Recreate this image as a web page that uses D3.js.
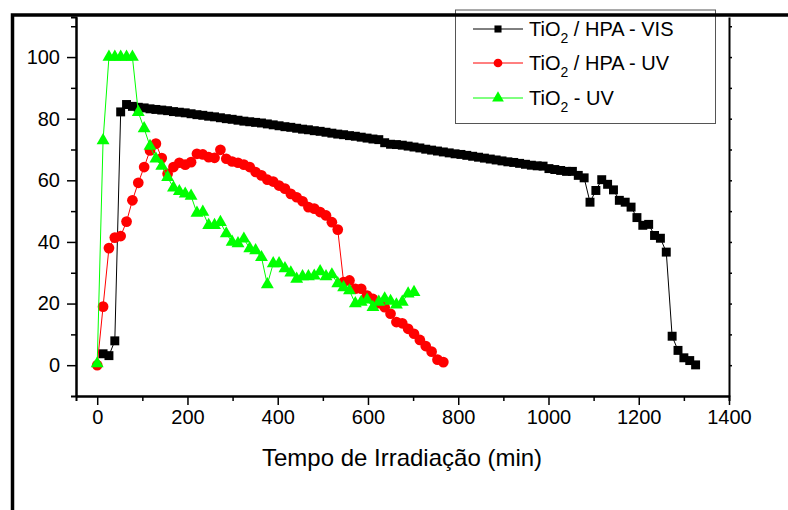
<!DOCTYPE html>
<html lang="pt">
<head>
<meta charset="UTF-8">
<script src="https://cdn.jsdelivr.net/npm/d3@7"></script>
<title>Irradiação</title>
<style>
    body { margin: 0; background: #fff; }
    text { font-family: 'Liberation Sans', Arial, sans-serif; fill: #000; }
</style>
</head>
<body>
<div id="chart"></div>
<script>
// tempo (min) e valores
const visTime = [13, 26, 39, 52, 65, 78, 91, 104, 117, 130, 143, 156, 169, 182, 195, 208, 221, 234, 247, 260,
    273, 286, 299, 312, 325, 338, 351, 364, 377, 390, 403, 416, 429, 442, 455, 468, 481, 494, 507, 520,
    533, 546, 559, 572, 585, 598, 611, 624, 637, 650, 663, 676, 689, 702, 715, 728, 741, 754, 767, 780,
    793, 806, 819, 832, 845, 858, 871, 884, 897, 910, 923, 936, 949, 962, 975, 988, 1001, 1014, 1027, 1040,
    1053, 1066, 1079, 1092, 1105, 1118, 1131, 1144, 1157, 1170, 1183, 1196, 1209, 1222, 1235, 1248, 1261, 1274, 1287, 1300,
    1313, 1326];
const visValue = [3.7, 3.1, 7.9, 82.2, 84.6, 84.0, 83.7, 83.5, 83.2, 83.0, 82.8, 82.6, 82.3, 82.1, 81.9, 81.6, 81.3, 81.1, 80.8, 80.6,
    80.3, 80.0, 79.8, 79.5, 79.2, 79.0, 78.8, 78.6, 78.3, 78.0, 77.7, 77.4, 77.2, 76.9, 76.6, 76.4, 76.1, 75.9, 75.6, 75.3,
    75.0, 74.8, 74.5, 74.3, 74.0, 73.7, 73.4, 73.2, 72.2, 71.7, 71.6, 71.4, 71.1, 70.8, 70.5, 70.1, 69.8, 69.5, 69.2, 68.9,
    68.6, 68.4, 68.1, 67.8, 67.5, 67.2, 66.9, 66.6, 66.3, 66.0, 65.8, 65.5, 65.2, 64.9, 64.7, 64.6, 63.8, 63.5, 63.2, 62.9,
    62.9, 61.6, 60.8, 52.9, 56.7, 60.2, 58.7, 56.9, 53.5, 52.9, 51.3, 47.9, 45.4, 45.7, 42.1, 41.2, 36.7, 9.4, 4.8, 2.4,
    1.5, 0.1];

const uvTime = [0, 13, 26, 39, 52, 65, 78, 91, 104, 117, 130, 143, 156, 169, 182, 195, 208, 221, 234, 247,
    260, 273, 286, 299, 312, 325, 338, 351, 364, 377, 390, 403, 416, 429, 442, 455, 468, 481, 494, 507,
    520, 533, 546, 559, 572, 585, 598, 611, 624, 637, 650, 663, 676, 689, 702, 715, 728, 741, 754, 767];
const uvValue = [0, 19.0, 38.0, 41.4, 41.9, 46.6, 53.5, 59.2, 64.3, 69.7, 71.9, 67.2, 62.1, 64.3, 65.7, 65.1, 65.9, 68.6, 68.4, 67.5,
    67.3, 69.9, 67.0, 66.1, 65.7, 65.1, 64.3, 62.7, 61.6, 60.2, 59.6, 58.3, 57.3, 55.6, 54.5, 53.2, 51.3, 50.8, 49.7, 48.6,
    46.4, 44.0, 27.0, 27.5, 24.8, 24.8, 22.6, 21.5, 20.1, 18.8, 16.7, 14.0, 13.6, 11.8, 10.2, 8.2, 6.2, 4.4, 1.8, 1.0];

const tioTime = [0, 13, 26, 39, 52, 65, 78, 91, 104, 117, 130, 143, 156, 169, 182, 195, 208, 221, 234, 247,
    260, 273, 286, 299, 312, 325, 338, 351, 364, 377, 390, 403, 416, 429, 442, 455, 468, 481, 494, 507,
    520, 533, 546, 559, 572, 585, 598, 611, 624, 637, 650, 663, 676, 689, 702];
const tioValue = [0.5, 72.9, 100, 100, 100, 100, 100, 82.1, 76.8, 71.1, 67.0, 64.6, 61.0, 57.6, 56.4, 55.6, 54.9, 49.4, 49.7, 45.4,
    45.4, 46.4, 42.7, 40.0, 39.5, 41.0, 37.9, 37.2, 35.0, 26.2, 33.0, 33.0, 31.4, 30.0, 28.0, 28.8, 28.8, 29.0, 30.4, 28.8,
    29.4, 26.5, 25.2, 24.2, 20.0, 20.5, 21.2, 18.8, 20.5, 21.6, 20.8, 19.6, 20.5, 23.2, 23.7];

const xTicks = [0, 200, 400, 600, 800, 1000, 1200, 1400];
const xMinor = [100, 300, 500, 700, 900, 1100, 1300];
const yTicks = [0, 20, 40, 60, 80, 100];
const yMinor = [10, 30, 50, 70, 90, 110];

const series = [
    { label: "/ HPA - VIS", time: visTime, value: visValue, color: "#000000", shape: "square" },
    { label: "/ HPA - UV", time: uvTime, value: uvValue, color: "#ff0000", shape: "circle" },
    { label: "- UV", time: tioTime, value: tioValue, color: "#00ff00", shape: "triangle" }
];

const width = 788, height = 510;
const svg = d3.select("#chart").append("svg")
    .attr("width", width)
    .attr("height", height);

const x = d3.scaleLinear().domain([-47, 1400]).range([76, 729]);
const y = d3.scaleLinear().domain([-10, 113]).range([396, 17]);

function symbolFor(shape) {
    if (shape === "square") return d3.symbol().type(d3.symbolSquare).size(80);
    if (shape === "circle") return d3.symbol().type(d3.symbolCircle).size(90);
    return d3.symbol().type(d3.symbolTriangle).size(72);
}

// series
series.forEach(s => {
    const pts = s.time.map((t, i) => [t, s.value[i]]);
    const line = d3.line().x(d => x(d[0])).y(d => y(d[1]));
    svg.append("path")
        .attr("d", line(pts))
        .attr("fill", "none")
        .attr("stroke", s.color)
        .attr("stroke-width", 1);
    svg.append("g").selectAll("path")
        .data(pts)
        .enter()
        .append("path")
        .attr("transform", d => `translate(${x(d[0])},${y(d[1])})`)
        .attr("d", symbolFor(s.shape))
        .attr("fill", s.color);
});

// axes
const fmt = d3.format("d");
const xAxis = svg.append("g").attr("transform", "translate(0,396)");
xAxis.call(d3.axisBottom(x).tickValues(xTicks).tickFormat(fmt).tickSize(9).tickPadding(5).tickSizeOuter(0));
xAxis.append("g").call(d3.axisBottom(x).tickValues(xMinor).tickSize(5).tickFormat(""));

const yAxis = svg.append("g").attr("transform", "translate(76,0)");
yAxis.call(d3.axisLeft(y).tickValues(yTicks).tickFormat(fmt).tickSize(9).tickPadding(7).tickSizeOuter(0));
yAxis.append("g").call(d3.axisLeft(y).tickValues(yMinor).tickSize(5).tickFormat(""));

const yRight = svg.append("g").attr("transform", "translate(729,0)");
yRight.call(d3.axisRight(y).tickValues(yTicks.concat(yMinor)).tickSize(3).tickFormat("").tickSizeOuter(0));

svg.selectAll(".domain").attr("stroke", "#000").attr("stroke-width", 2);
svg.selectAll(".tick line").attr("stroke", "#000").attr("stroke-width", 1.5);
svg.selectAll(".tick text").attr("font-size", 20);

svg.append("text")
    .attr("x", 402)
    .attr("y", 466)
    .attr("text-anchor", "middle")
    .attr("font-size", 24)
    .text("Tempo de Irradiação (min)");

// legend
const legend = svg.append("g");
legend.append("rect")
    .attr("x", 455.5).attr("y", 10).attr("width", 260).attr("height", 113.5)
    .attr("fill", "#fff").attr("stroke", "#555").attr("stroke-width", 1);

const rowY = [29, 63, 98];
series.forEach((s, i) => {
    const g = legend.append("g").attr("transform", `translate(0,${rowY[i]})`);
    g.append("line").attr("x1", 473).attr("x2", 523).attr("y1", 0).attr("y2", 0)
        .attr("stroke", s.color).attr("stroke-width", 1);
    g.append("path").attr("transform", "translate(498,0)")
        .attr("d", symbolFor(s.shape).size(i === 0 ? 50 : 60)())
        .attr("fill", s.color);
    const t = g.append("text").attr("x", 529).attr("y", 7).attr("font-size", 20);
    t.append("tspan").text("TiO");
    t.append("tspan").attr("dy", 7).attr("font-size", 14).text("2");
    t.append("tspan").attr("dy", -7).text(" " + s.label);
});

// moldura externa
svg.append("path")
    .attr("d", "M12.5,510V15H788")
    .attr("fill", "none")
    .attr("stroke", "#000")
    .attr("stroke-width", 3.5);
</script>
</body>
</html>
